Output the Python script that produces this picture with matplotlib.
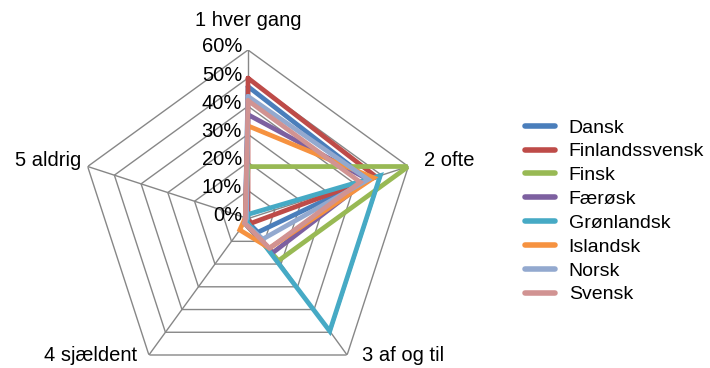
import numpy as np
import matplotlib
matplotlib.use("Agg")
import matplotlib.pyplot as plt
from matplotlib.transforms import offset_copy

plt.rcParams['font.family'] = ['Liberation Sans', 'DejaVu Sans']

categories = ['1 hver gang', '2 ofte', '3 af og til', '4 sjældent', '5 aldrig']
ticks = [0, 10, 20, 30, 40, 50, 60]

series = ['Dansk', 'Finlandssvensk', 'Finsk', 'Færøsk', 'Grønlandsk',
          'Islandsk', 'Norsk', 'Svensk']
dansk = [47, 45, 6, 1, 1]
finlandssvensk = [50, 48, 2, 0, 0]
finsk = [18.5, 60, 18.5, 2, 1]
faerosk = [37, 45, 15, 2, 1]
gronlandsk = [1.5, 49.5, 49.5, 1, 0]
islandsk = [33, 47, 13, 5, 1]
norsk = [43.5, 45, 9, 2, 0.5]
svensk = [42, 42, 13, 2, 1]
values = [dansk, finlandssvensk, finsk, faerosk, gronlandsk, islandsk, norsk, svensk]

colors = ['#4A7EBB', '#BE4B48', '#98B954', '#7D60A0', '#46AAC5',
          '#F69240', '#93A9CF', '#D19392']

W, H = 710, 368
fig = plt.figure(figsize=(W / 100, H / 100), dpi=100)
cx, cy, R = 248, 218.6, 168.6
ax = fig.add_axes([(cx - R) / W, (H - cy - R) / H, 2 * R / W, 2 * R / H],
                  projection='polar')
ax.set_theta_offset(np.pi / 2)
ax.set_theta_direction(-1)
ax.set_ylim(0, 60)
ax.axis('off')

n = len(categories)
theta = np.arange(n) * 2 * np.pi / n
theta_c = np.append(theta, theta[0])

# pentagon grid
for t in ticks[1:]:
    ax.plot(theta_c, [t] * (n + 1), color='#878787', lw=1.0, zorder=1)
for th in theta:
    ax.plot([th, th], [0, 60], color='#878787', lw=1.0, zorder=1)

for name, v, c in zip(series, values, colors):
    ax.plot(theta_c, v + v[:1], color=c, lw=3.4, label=name, zorder=3,
            solid_joinstyle='miter', solid_capstyle='round')

# tick labels
tr = offset_copy(ax.transData, fig, x=-6, y=3, units='dots')
for t in ticks:
    ax.text(0, t, f'{t}%', transform=tr, ha='right', va='center', fontsize=14.5)

# category labels
offsets = [(0, 30, 'center'), (16, 6, 'left'), (15, 0, 'left'),
           (-12, 0, 'right'), (-6, 6, 'right')]
for th, lab, (dx, dy, ha) in zip(theta, categories, offsets):
    trc = offset_copy(ax.transData, fig, x=dx, y=dy, units='dots')
    ax.text(th, 60, lab, transform=trc, ha=ha, va='center', fontsize=14.5)

leg = fig.legend(loc='upper left', bbox_to_anchor=(525 / W, 1 - 119 / H),
                 frameon=False, fontsize=14, handlelength=1.55, handletextpad=0.7,
                 labelspacing=0.32, borderpad=0, borderaxespad=0)
for h in leg.get_lines():
    h.set_linewidth(4)
    h.set_solid_capstyle('round')

fig.savefig('out.png', dpi=100)
